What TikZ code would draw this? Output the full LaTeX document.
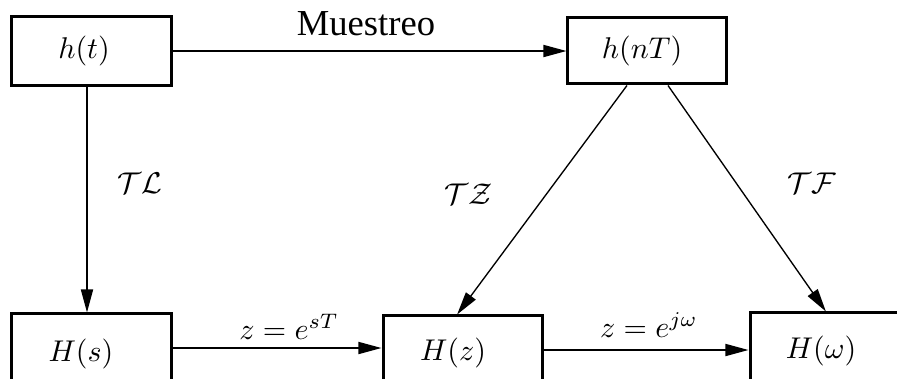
\documentclass[tikz,border=0pt]{standalone}
\usepackage{fontspec}
\newfontfamily\serifT{Liberation Serif}
\usetikzlibrary{arrows.meta}
\tikzset{
  x=0.33333pt, y=-0.33333pt,
  blk/.style={draw, line width=1pt, minimum width=53pt, minimum height=22.67pt, inner sep=0pt},
  txt/.style={inner sep=0pt},
  conn/.style={line width=0.6pt, -{Triangle[length=7.7pt,width=4pt]}},
  diag/.style={line width=0.45pt, -{Triangle[length=7.7pt,width=4pt]}}
}
\begin{document}
\begin{tikzpicture}
\useasboundingbox (0,0) rectangle (897,379);
\clip (0,0) rectangle (897,379);
% boxes
\node[blk] (ht)  at (91.5,51)   {};
\node[blk, minimum width=52.67pt, minimum height=22.33pt] (hnT) at (647,50.5) {};
\node[blk] (Hs)  at (91.5,348)  {};
\node[blk] (Hz)  at (462.5,350) {};
\node[blk] (Hw)  at (829.5,347) {};
% box texts
\node[txt] (htt)  at (84,51)   {$h(t)$};
\node[txt] (hnTt) at (642,51)  {$h(nT)$};
\node[txt] (Hst)  at (81,354)  {$H(s)$};
\node[txt] (Hzt)  at (453,353) {$H(z)$};
\node[txt] (Hwt)  at (821,351) {$H(\omega)$};
% connectors
\draw[conn] (ht.east) -- (hnT.west |- ht.east);
\draw[conn] ([xshift=-1.5pt]ht.south) -- ([xshift=-1.5pt]Hs.north);
\draw[conn] (Hs.east) -- (Hs.east -| Hz.west);
\draw[conn] (Hz.east) -- (Hz.east -| Hw.west);
\draw[diag] ([xshift=-6.67pt]hnT.south) -- ([xshift=-1.8pt]Hz.north);
\draw[diag] ([xshift=7pt]hnT.south) -- ([xshift=-1.2pt]Hw.north);
% labels
\node[txt, anchor=base] (mu) at (366,35) {\serifT\fontsize{12.2}{14}\selectfont Muestreo};
\node[txt] (tl) at (140,183) {$\mathcal{T}\mathcal{L}$};
\node[txt] (tz) at (469,194) {$\mathcal{T}\mathcal{Z}$};
\node[txt] (tf) at (812,183) {$\mathcal{T}\mathcal{F}$};
\node[txt, anchor=base] (l1) at (289,339) {$z=e^{sT}$};
\node[txt, anchor=base] (l2) at (649,337) {$z=e^{j\omega}$};
\end{tikzpicture}
\end{document}
